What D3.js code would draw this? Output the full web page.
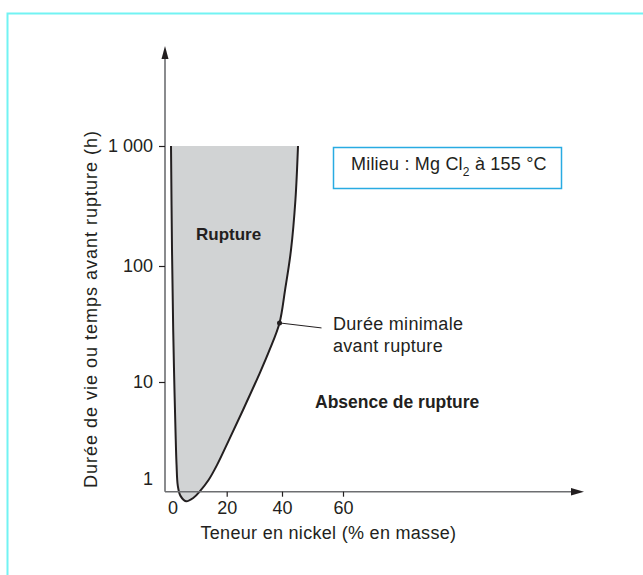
<!DOCTYPE html>
<html>
<head>
<meta charset="utf-8">
<script src="https://cdn.jsdelivr.net/npm/d3@7"></script>
<style>
  body { margin: 0; background: #fff; }
  text { font-family: "Liberation Sans", Arial, sans-serif; fill: #231f20; }
</style>
</head>
<body>
<div id="chart"></div>
<script>
// boundary of the rupture domain (left branch down, then right branch up)
const nickel = [-0.55, -0.18, 0.26, 0.66, 1.1, 1.5, 1.96, 2.95, 5.0, 7.75, 10.15, 13.3, 16.4, 20.8, 25.9, 32.0, 35.5, 39.1, 41.0, 42.95, 44.4, 45.25];
const hours = [1000, 136, 28, 10, 3.2, 1.39, 0.85, 0.67, 0.59, 0.64, 0.75, 0.976, 1.39, 2.52, 5.15, 12, 18.9, 32.3, 62, 136, 355, 1000];

const minPoint = [39.1, 32.3]; // "Durée minimale avant rupture"

const xTicks = [0, 20, 40, 60];
const yTicks = [1, 10, 100, 1000];
const yTickLabels = ["1", "10", "100", "1 000"];

const width = 643, height = 575;
const axisX = 165, axisY = 491.7;

const svg = d3.select("#chart").append("svg")
    .attr("width", width)
    .attr("height", height);

// outer frame
svg.append("rect")
    .attr("x", 7.5).attr("y", 13.5)
    .attr("width", 700).attr("height", 700)
    .attr("fill", "none")
    .attr("stroke", "#72f3f3")
    .attr("stroke-width", 2);

const x = d3.scaleLinear().domain([0, 20, 40, 60]).range([172.5, 226.7, 282, 343]);
const y = d3.scaleLog().domain([1, 10, 100, 1000]).range([479, 382, 266, 146]);

const pts = nickel.map((n, i) => [x(n), y(hours[i])]);
const boundary = d3.line().curve(d3.curveCatmullRom.alpha(0.5));

// shaded rupture area
svg.append("path")
    .attr("d", boundary(pts) + "Z")
    .attr("fill", "#d1d3d4")
    .attr("stroke", "none");

svg.append("path")
    .attr("d", boundary(pts))
    .attr("fill", "none")
    .attr("stroke", "#231f20")
    .attr("stroke-width", 2);

// axes lines with arrows
svg.append("line")
    .attr("x1", axisX).attr("y1", axisY)
    .attr("x2", axisX).attr("y2", 58)
    .attr("stroke", "#6d6e71").attr("stroke-width", 1.6);
svg.append("path")
    .attr("d", `M${axisX},46 L${axisX - 3.5},59 L${axisX + 3.5},59 Z`)
    .attr("fill", "#231f20");

svg.append("line")
    .attr("x1", axisX).attr("y1", axisY)
    .attr("x2", 572).attr("y2", axisY)
    .attr("stroke", "#6d6e71").attr("stroke-width", 1.6);
svg.append("path")
    .attr("d", `M584,${axisY} L571,${axisY - 3.8} L571,${axisY + 3.8} Z`)
    .attr("fill", "#231f20");

const yAxis = svg.append("g")
    .attr("transform", `translate(${axisX},0)`)
    .call(d3.axisLeft(y).tickValues(yTicks).tickFormat((d, i) => yTickLabels[i]).tickSize(6).tickPadding(6));
yAxis.select(".domain").remove();
yAxis.selectAll(".tick").filter(d => d === 1).select("line").remove();

const xAxis = svg.append("g")
    .attr("transform", `translate(0,${axisY})`)
    .call(d3.axisBottom(x).tickValues(xTicks).tickSize(5).tickPadding(5));
xAxis.select(".domain").remove();
xAxis.selectAll(".tick").filter(d => d === 0).select("line").remove();

svg.selectAll(".tick line").attr("stroke", "#231f20").attr("stroke-width", 1.2);
svg.selectAll(".tick text")
    .style("font-family", "'Liberation Sans', Arial, sans-serif")
    .style("font-size", "18px")
    .attr("fill", "#231f20");

// axis titles
svg.append("text")
    .attr("x", 200.5).attr("y", 539)
    .style("font-size", "18px")
    .style("letter-spacing", "0.3px")
    .text("Teneur en nickel (% en masse)");

svg.append("text")
    .attr("transform", "translate(97,309) rotate(-90)")
    .attr("text-anchor", "middle")
    .style("font-size", "18px")
    .style("letter-spacing", "1px")
    .text("Durée de vie ou temps avant rupture (h)");

// region labels
svg.append("text")
    .attr("x", 196).attr("y", 240)
    .style("font-size", "17px")
    .style("font-weight", "bold")
    .text("Rupture");

svg.append("text")
    .attr("x", 315).attr("y", 408)
    .style("font-size", "17.5px")
    .style("font-weight", "bold")
    .text("Absence de rupture");

// annotation of the boundary
svg.append("circle")
    .attr("cx", x(minPoint[0])).attr("cy", y(minPoint[1]))
    .attr("r", 2.5)
    .attr("fill", "#231f20");
svg.append("line")
    .attr("x1", x(minPoint[0])).attr("y1", y(minPoint[1]))
    .attr("x2", x(minPoint[0]) + 42).attr("y2", y(minPoint[1]) + 5)
    .attr("stroke", "#231f20").attr("stroke-width", 1);

const note = svg.append("text")
    .style("font-size", "18px")
    .style("letter-spacing", "0.3px");
note.append("tspan").attr("x", 333).attr("y", 330).text("Durée minimale");
note.append("tspan").attr("x", 333).attr("y", 352).text("avant rupture");

// medium box
svg.append("rect")
    .attr("x", 333.5).attr("y", 147.5)
    .attr("width", 228).attr("height", 41)
    .attr("fill", "#fff")
    .attr("stroke", "#29abe2")
    .attr("stroke-width", 1.5);

const medium = svg.append("text")
    .attr("x", 351).attr("y", 169.5)
    .style("font-size", "18px")
    .style("letter-spacing", "0.2px");
medium.append("tspan").text("Milieu : Mg Cl");
medium.append("tspan").attr("dy", 6).style("font-size", "12px").text("2");
medium.append("tspan").attr("dy", -6).text(" à 155 °C");
</script>
</body>
</html>
